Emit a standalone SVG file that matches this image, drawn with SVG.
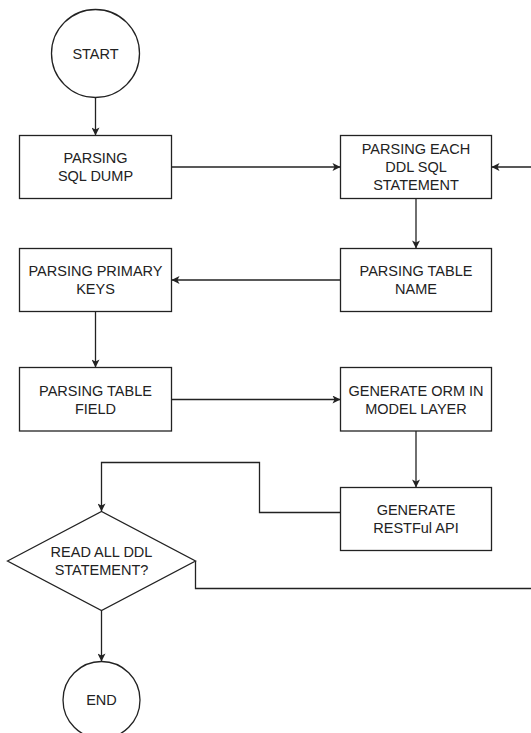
<svg xmlns="http://www.w3.org/2000/svg" width="531" height="733" viewBox="0 0 531 733">
<style>
.n{fill:#fff;stroke:#222;stroke-width:1.3}
.t{font-family:"Liberation Sans",Arial,sans-serif;font-size:14.5px;fill:#222;text-anchor:middle}
.e{fill:none;stroke:#222;stroke-width:1.3}
</style>
<defs>
<marker id="arr" viewBox="0 0 10 10" refX="10" refY="5" markerWidth="9" markerHeight="8" markerUnits="userSpaceOnUse" orient="auto">
<path d="M0,0 L10,5 L0,10 L2.5,5 z" fill="#222"/>
</marker>
</defs>
<rect width="531" height="733" fill="#fff"/>
<g id="connectors">
<path class="e" d="M95.5,97.5 V135.5" marker-end="url(#arr)"/>
<path class="e" d="M171.5,167 H340.5" marker-end="url(#arr)"/>
<path class="e" d="M195.5,561 V588.5 H545 V167 H491.5" marker-end="url(#arr)"/>
<path class="e" d="M416,198.5 V248.5" marker-end="url(#arr)"/>
<path class="e" d="M340.5,280 H171.5" marker-end="url(#arr)"/>
<path class="e" d="M95.5,311.5 V367.5" marker-end="url(#arr)"/>
<path class="e" d="M171.5,399.5 H340.5" marker-end="url(#arr)"/>
<path class="e" d="M416,431 V487.5" marker-end="url(#arr)"/>
<path class="e" d="M340.5,512.5 H259.5 V462.5 H101.5 V511.5" marker-end="url(#arr)"/>
<path class="e" d="M101.5,610.5 V661.5" marker-end="url(#arr)"/>
</g>
<g id="start">
<circle class="n" cx="95.5" cy="53.5" r="44"/>
<text class="t" x="95.5" y="58.7">START</text>
</g>
<g id="parsing-sql-dump">
<rect class="n" x="19.5" y="135.5" width="152" height="63"/>
<text class="t" x="95.5" y="163.2">PARSING<tspan x="95.5" dy="18">SQL DUMP</tspan></text>
</g>
<g id="parsing-each-ddl">
<rect class="n" x="340.5" y="135.5" width="151" height="63"/>
<text class="t" x="416" y="154.2">PARSING EACH<tspan x="416" dy="18">DDL SQL</tspan><tspan x="416" dy="18">STATEMENT</tspan></text>
</g>
<g id="parsing-table-name">
<rect class="n" x="340.5" y="248.5" width="151" height="63"/>
<text class="t" x="416" y="276.2">PARSING TABLE<tspan x="416" dy="18">NAME</tspan></text>
</g>
<g id="parsing-primary-keys">
<rect class="n" x="19.5" y="248.5" width="152" height="63"/>
<text class="t" x="95.5" y="276.2">PARSING PRIMARY<tspan x="95.5" dy="18">KEYS</tspan></text>
</g>
<g id="parsing-table-field">
<rect class="n" x="19.5" y="367.5" width="152" height="63.5"/>
<text class="t" x="95.5" y="395.7">PARSING TABLE<tspan x="95.5" dy="18">FIELD</tspan></text>
</g>
<g id="generate-orm">
<rect class="n" x="340.5" y="367.5" width="151" height="63.5"/>
<text class="t" x="416" y="395.7">GENERATE ORM IN<tspan x="416" dy="18">MODEL LAYER</tspan></text>
</g>
<g id="generate-restful">
<rect class="n" x="340.5" y="487.5" width="151" height="63"/>
<text class="t" x="416" y="515.2">GENERATE<tspan x="416" dy="18">RESTFul API</tspan></text>
</g>
<g id="read-all-ddl">
<polygon class="n" points="7.5,561 101.5,511.5 195.5,561 101.5,610.5"/>
<text class="t" x="101.5" y="557.2">READ ALL DDL<tspan x="101.5" dy="18">STATEMENT?</tspan></text>
</g>
<g id="end">
<circle class="n" cx="101.5" cy="700" r="38.5"/>
<text class="t" x="101.5" y="705.2">END</text>
</g>
</svg>
